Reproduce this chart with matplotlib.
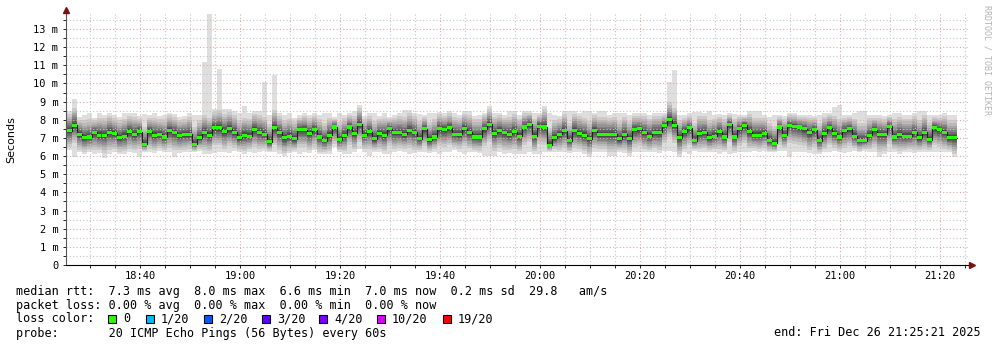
import numpy as np
import matplotlib.pyplot as plt
from matplotlib.ticker import MultipleLocator, FuncFormatter

plt.rcParams['font.family'] = ['DejaVu Sans Mono']

# sample start (minutes after 18:00), one sample per minute
t0 = 25.3

# median rtt per minute (ms)
median_ms = [
    7.4, 7.7, 7.2, 7.0, 7.05, 7.3, 7.15, 7.15, 7.3, 7.25,
    7.0, 7.1, 7.35, 7.2, 7.35, 6.65, 7.35, 7.15, 7.2, 7.05,
    7.4, 7.3, 7.15, 7.2, 7.2, 6.65, 7.0, 7.3, 7.15, 7.55,
    7.55, 7.35, 7.5, 7.3, 7.0, 7.15, 7.1, 7.45, 7.3, 7.2,
    6.8, 7.55, 7.3, 7.0, 7.1, 6.95, 7.45, 7.45, 7.25, 7.45,
    7.05, 6.85, 7.15,
    7.6, 6.9, 7.15, 7.6, 7.25, 7.75, 7.15, 7.35, 6.95, 7.25,
    7.15, 7.5, 7.3, 7.3, 7.2, 7.4, 7.3, 6.95, 7.5, 6.9,
    7.05, 7.5, 7.45, 7.55, 7.2, 7.2, 7.5, 7.3, 7.05, 7.05,
    7.5, 7.75, 7.25, 7.4, 7.3, 7.2, 7.35, 7.1, 7.6, 7.75,
    7.1, 7.65, 7.6, 6.6, 7.0, 7.2, 7.4, 6.85, 7.4, 7.25,
    7.15, 6.95, 7.4, 7.2, 7.2, 7.2, 7.2, 6.95, 7.2, 6.95,
    7.45, 7.5, 7.3, 7.1, 7.3, 7.3,
    7.7, 8.0, 7.7, 7.0, 7.35, 7.55, 6.85, 7.25, 7.3, 7.0,
    7.1, 7.35, 7.05, 7.75, 7.05, 7.5, 7.7, 7.35, 7.15, 7.15,
    7.25, 6.85, 6.7, 7.6, 7.15, 7.7, 7.65, 7.6, 7.5, 7.3,
    7.45, 6.85, 7.25, 7.55, 7.25, 7.05, 7.4, 7.5, 7.1, 6.85,
    6.85, 7.15, 7.45, 7.2, 7.2, 7.65, 7.05, 7.2, 7.1, 7.1,
    7.3, 7.0, 7.3, 6.9, 7.55, 7.45, 7.3, 7.0, 7.0,
]

# slowest ping per minute (ms)
max_ms = [
    8.5, 9.15, 8.15, 8.25, 8.35, 8.1, 8.35, 8.25, 8.4, 8.25,
    8.15, 8.35, 8.35, 8.4, 8.2, 8.3, 8.25, 8.35, 8.2, 8.25,
    8.4, 8.3, 8.15, 8.2, 8.35, 8.25, 8.25, 11.2, 13.8, 8.6,
    10.8, 8.6, 8.6, 8.5, 8.35, 8.75, 8.4, 8.5, 8.5, 10.1,
    8.25, 10.45, 8.35, 8.25, 8.35, 8.1, 8.25, 8.35, 8.25, 8.35,
    8.25, 8.35, 8.35,
    8.15, 8.35, 8.25, 8.4, 8.5, 8.8, 8.2, 8.35, 8.35, 8.2,
    8.35, 8.15, 8.25, 8.35, 8.55, 8.55, 8.35, 8.3, 8.25, 8.35,
    8.35, 8.45, 8.35, 8.5, 8.35, 8.25, 8.5, 8.5, 8.2, 8.25,
    8.4, 8.75, 8.35, 8.4, 8.25, 8.5, 8.5, 8.25, 8.5, 8.5,
    8.35, 8.4, 8.75, 8.35, 8.25, 8.2, 8.5, 8.5, 8.5, 8.4,
    8.5, 8.5, 8.4, 8.5, 8.5, 8.25, 8.35, 8.4, 8.35, 8.25,
    8.35, 8.35, 8.35, 8.25, 8.35, 8.35,
    8.35, 10.1, 10.75, 8.25, 8.25, 8.35, 8.45, 8.45, 8.35, 8.5,
    8.25, 8.3, 8.25, 8.35, 8.3, 8.25, 8.25, 8.5, 8.5, 8.5,
    8.25, 8.15, 8.25, 8.25, 8.2, 8.35, 8.35, 8.25, 8.25, 8.25,
    8.2, 8.25, 8.35, 8.4, 8.7, 8.8, 8.25, 8.25, 8.35, 8.5,
    8.5, 8.25, 8.25, 8.25, 8.2, 8.25, 8.35, 8.35, 8.25, 8.25,
    8.35, 8.5, 8.5, 8.25, 8.25, 8.25, 8.35, 8.25, 8.25,
]

# fastest ping per minute (ms)
min_ms = [
    6.35, 5.95, 6.2, 6.1, 6.2, 6.1, 6.15, 5.9, 6.1, 6.2,
    6.1, 6.1, 6.2, 6.15, 5.95, 6.2, 6.2, 6.15, 6.3, 6.2,
    6.25, 5.95, 6.15, 6.2, 6.25, 6.2, 6.3, 6.1, 6.1, 6.15,
    6.2, 6.2, 6.15, 6.3, 6.2, 6.1, 6.25, 6.15, 6.2, 6.3,
    6.2, 6.25, 6.1, 6.0, 6.15, 6.2, 6.1, 6.2, 6.15, 6.35,
    6.1, 6.1, 6.1,
    6.5, 6.2, 6.1, 6.1, 6.2, 6.4, 6.25, 6.0, 6.2, 6.2,
    6.1, 6.1, 6.2, 6.3, 6.25, 6.1, 6.15, 6.25, 6.2, 6.15,
    6.25, 6.1, 6.25, 6.2, 6.35, 6.25, 6.1, 6.25, 6.2, 6.15,
    6.0, 6.0, 6.0, 6.2, 6.1, 6.15, 6.1, 6.1, 6.1, 6.2,
    6.1, 6.1, 6.2, 6.25, 6.25, 6.2, 6.25, 6.15, 6.2, 6.25,
    6.1, 5.95, 6.2, 6.25, 6.25, 6.0, 6.0, 6.2, 6.15, 6.0,
    6.2, 6.25, 6.2, 6.2, 6.25, 6.15,
    6.3, 6.3, 6.2, 5.95, 6.2, 6.1, 6.3, 6.2, 6.25, 6.2,
    6.25, 6.1, 6.2, 6.1, 6.15, 6.25, 6.2, 6.25, 6.3, 6.25,
    6.3, 6.2, 6.2, 6.3, 6.3, 5.95, 6.2, 6.25, 6.2, 6.15,
    6.1, 6.1, 6.2, 6.25, 6.3, 6.2, 6.15, 6.25, 6.3, 6.2,
    6.3, 6.25, 6.2, 5.95, 6.1, 6.2, 6.25, 6.1, 6.2, 6.25,
    6.15, 6.2, 6.2, 6.25, 6.2, 6.25, 6.2, 6.2, 5.95,
]

loss_labels = ['0', '1/20', '2/20', '3/20', '4/20', '10/20', '19/20']
loss_colors = ['#26ff00', '#00b8ff', '#0059ff', '#5e00ff', '#7e00ff', '#dd00ff', '#ff0000']

legend_rows = [
    'median rtt:  7.3 ms avg  8.0 ms max  6.6 ms min  7.0 ms now  0.2 ms sd  29.8   am/s',
    'packet loss: 0.00 % avg  0.00 % max  0.00 % min  0.00 % now',
    'loss color:',
    'probe:       20 ICMP Echo Pings (56 Bytes) every 60s',
]
end_label = 'end: Fri Dec 26 21:25:21 2025'

W, H = 997, 347
ytop = 13.9
px_per_ms = 236 / 13
fig = plt.figure(figsize=(W / 100, H / 100), dpi=100)
ax = fig.add_axes([66 / W, 1 - 265 / H, (968 - 66) / W, ytop * px_per_ms / H])

med = np.array(median_ms)
hi = np.array(max_ms)
lo = np.array(min_ms)
n = len(med)
edges = t0 + np.arange(n + 1)

def ext(a):
    return np.append(a, a[-1])

# smoke: outer band uses the extremes, inner bands shrink toward the median
shrink = [1.0, 0.84, 0.7, 0.58, 0.47, 0.37, 0.28, 0.2, 0.13, 0.07]
greys = np.linspace(0.87, 0.22, len(shrink))
up = np.minimum(hi - med, 1.15)
dn = np.minimum(med - lo, 1.15)
for k, (f, g) in enumerate(zip(shrink, greys)):
    if k == 0:
        top, bot = hi, lo
    else:
        top, bot = med + up * f, med - dn * f
    ax.fill_between(edges, ext(bot), ext(top), step='post',
                    color=str(g), lw=0, zorder=1)

ax.step(edges, ext(med), where='post', color='#202020', lw=0.8, zorder=3)
ax.bar(edges[:-1], 0.17, bottom=med - 0.085, width=1, align='edge',
       color=loss_colors[0], lw=0, zorder=4)

ax.set_xlim(25.2, 205.6)
ax.set_ylim(0, ytop)
ax.xaxis.set_major_locator(MultipleLocator(20))
ax.xaxis.set_minor_locator(MultipleLocator(5))
ax.yaxis.set_major_locator(MultipleLocator(1))
ax.yaxis.set_minor_locator(MultipleLocator(0.5))
ax.xaxis.set_major_formatter(FuncFormatter(
    lambda v, p: f'{18 + int(v) // 60:02d}:{int(v) % 60:02d}'))
ax.yaxis.set_major_formatter(FuncFormatter(
    lambda v, p: '0' if v == 0 else f'{v:g} m'))

ax.set_axisbelow(False)
ax.grid(which='major', color='#e2a8a8', linestyle=(0, (1, 2)), lw=0.8)
ax.grid(which='minor', color='#c4c4c4', linestyle=(0, (1, 2)), lw=0.8)
ax.tick_params(which='both', labelsize=7.5, colors='black', length=2.5,
               width=0.6, pad=3)
ax.tick_params(which='minor', length=2)
ax.tick_params(axis='x', pad=2)

for s in ['top', 'right']:
    ax.spines[s].set_visible(False)
ax.spines['left'].set_color('#555555')
ax.spines['bottom'].set_color('black')
ax.spines['left'].set_linewidth(0.8)
ax.spines['bottom'].set_linewidth(0.8)
ax.plot(0, 1.01, '^', transform=ax.transAxes, clip_on=False,
        color='#7a1010', ms=4, zorder=6)
ax.plot(1.004, 0, '>', transform=ax.transAxes, clip_on=False,
        color='#7a1010', ms=4, zorder=6)

fig.text(11 / W, 1 - 140 / H, 'Seconds', rotation=90, ha='center',
         va='center', fontsize=8, family='DejaVu Sans')
fig.text(987 / W, 1 - 60 / H, 'RRDTOOL / TOBI OETIKER', rotation=270,
         ha='center', va='center', fontsize=6, color='#b4b4b4')

row_y = [291, 305, 319, 333]
for txt, y in zip(legend_rows, row_y):
    fig.text(16 / W, 1 - y / H, txt, ha='left', va='center', fontsize=8.5)

box_x = [108, 146, 204, 262, 319, 377, 443]
for bx, lab, col in zip(box_x, loss_labels, loss_colors):
    fig.patches.append(plt.Rectangle((bx / W, 1 - 323 / H), 8 / W, 8 / H,
                                     transform=fig.transFigure,
                                     facecolor=col, edgecolor='black', lw=0.8))
    fig.text((bx + 15) / W, 1 - 319 / H, lab, ha='left', va='center',
             fontsize=8.5)

fig.text(981 / W, 1 - 333 / H, end_label, ha='right', va='center', fontsize=8.5)

fig.savefig('out.png', dpi=100, facecolor='white')
